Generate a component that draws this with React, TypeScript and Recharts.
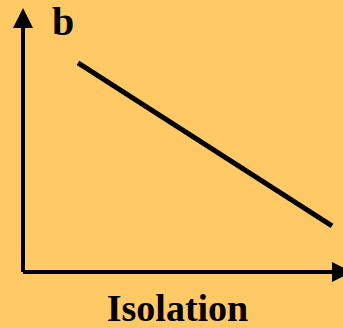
import React from "react";
import { Line, LineChart, XAxis, YAxis, Label } from "recharts";

// trend of b against isolation (read in % of axis length)
const isolation = [17.8, 100];
const bValues = [85.7, 18.9];
const xTitle = "Isolation";
const yTitle = "b";

const data = isolation.map((x, i) => ({ x, b: bValues[i] }));

const BG = "#FFC966";
const FONT = "'Liberation Serif', 'Times New Roman', serif";

export default function App() {
  return (
    <div style={{ position: "absolute", left: 0, top: 0, width: 343, height: 328, background: BG, overflow: "hidden" }}>
      <svg width={0} height={0} style={{ position: "absolute" }}>
        <defs>
          <marker id="arrowHead" markerUnits="userSpaceOnUse" markerWidth={20} markerHeight={20} refX={0} refY={10} orient="auto-start-reverse">
            <path d="M0,0 L20,10 L0,20 z" fill="#000" />
          </marker>
        </defs>
      </svg>
      <LineChart width={343} height={328} data={data} margin={{ top: 28, right: 11, bottom: 55, left: 22 }}>
        <XAxis
          dataKey="x"
          type="number"
          domain={[0, 100]}
          height={1}
          tick={false}
          tickLine={false}
          axisLine={{ stroke: "#000", strokeWidth: 4, markerEnd: "url(#arrowHead)" } as any}
        >
          <Label value={xTitle} position="bottom" offset={21} fill="#000" fontSize={38} fontWeight="bold" fontFamily={FONT} />
        </XAxis>
        <YAxis
          type="number"
          domain={[0, 100]}
          width={1}
          tick={false}
          tickLine={false}
          axisLine={{ stroke: "#000", strokeWidth: 4, markerStart: "url(#arrowHead)" } as any}
        >
          <Label
            content={() => (
              <text x={52} y={35} fill="#000" fontSize={40} fontWeight="bold" fontFamily={FONT}>
                {yTitle}
              </text>
            )}
          />
        </YAxis>
        <Line dataKey="b" stroke="#000" strokeWidth={5} dot={false} isAnimationActive={false} />
      </LineChart>
    </div>
  );
}
